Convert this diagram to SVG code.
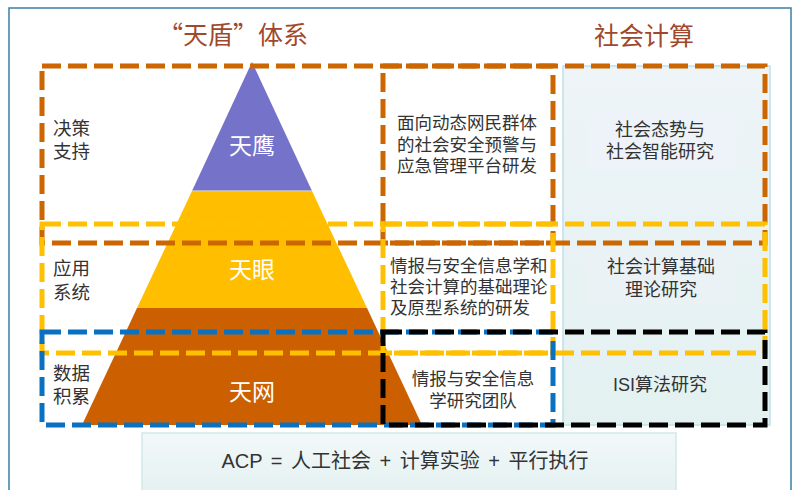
<svg xmlns="http://www.w3.org/2000/svg" width="798" height="490" viewBox="0 0 798 490">
<defs>
<linearGradient id="rightBg" x1="0" y1="0" x2="0" y2="1">
<stop offset="0" stop-color="#eef4f8"/>
<stop offset="1" stop-color="#e3f1f1"/>
</linearGradient>
<linearGradient id="acpBg" x1="0" y1="0" x2="0" y2="1">
<stop offset="0" stop-color="#f2f8f9"/>
<stop offset="1" stop-color="#e2f0f0"/>
</linearGradient>
</defs>
<style>
text{font-family:"Liberation Sans","Noto Sans CJK SC",sans-serif;}
.t{fill:#333;font-size:17.5px;}
.r{fill:#333;font-size:18px;text-anchor:middle;}
.lbl{fill:#333;font-size:18.5px;}
.py{fill:#fff;font-size:23px;text-anchor:middle;}
.title{fill:#a0482c;font-size:25px;text-anchor:middle;font-family:"Noto Sans CJK SC",sans-serif;}
.d{fill:none;stroke-width:5;stroke-dasharray:19 7;}
.or{stroke:#cc6600;}
.ye{stroke:#ffc000;}
.bl{stroke:#0a70c0;}
.bk{stroke:#000;}
</style>
<rect x="0" y="0" width="798" height="490" fill="#fff"/>
<rect x="9" y="8" width="782" height="500" fill="#fff" stroke="#3b7fa8" stroke-width="1.5"/>
<g id="titles">
<text class="title" x="233" y="44">“天盾”体系</text>
<text class="title" x="644" y="45">社会计算</text>
</g>
<g id="right-column">
<rect x="563" y="66" width="207" height="359" fill="url(#rightBg)" stroke="#bfe0e6" stroke-width="1.5"/>
<rect x="588" y="112" width="150" height="58" fill="#edf3f8"/>
<rect x="586" y="254" width="150" height="50" fill="#eaf2f6"/>
</g>
<g id="middle-column">
<rect x="383" y="66" width="170" height="359" fill="#fff"/>
</g>
<g id="pyramid">
<polygon id="tianying" points="252,62 312,191 192,191" fill="#7573c9"/>
<polygon id="tianyan" points="192,191 312,191 367,308 137,308" fill="#ffbf00"/>
<polygon id="tianwang" points="137,308 367,308 422,425 82,425" fill="#cc6000"/>
<line x1="192" y1="191" x2="312" y2="191" stroke="#c8c8c8" stroke-width="1.5"/>
<text class="py" x="252" y="154">天鹰</text>
<text class="py" x="252" y="278">天眼</text>
<text class="py" x="252" y="400">天网</text>
</g>
<g id="connectors">
<rect class="d or" x="42" y="66" width="511" height="177"/>
<rect class="d or" x="383" y="66" width="382" height="177"/>
<rect class="d ye" x="42" y="224" width="511" height="129"/>
<rect class="d ye" x="383" y="224" width="382" height="129"/>
<rect class="d bl" x="42" y="332" width="511" height="93"/>
<rect class="d bk" x="383" y="332" width="382" height="93"/>
</g>
<g id="left-labels">
<text class="lbl" x="53" y="135">决策</text>
<text class="lbl" x="53" y="158">支持</text>
<text class="lbl" x="53" y="275">应用</text>
<text class="lbl" x="53" y="299">系统</text>
<text class="lbl" x="53" y="380">数据</text>
<text class="lbl" x="53" y="403">积累</text>
</g>
<g id="middle-texts">
<text class="t" x="467" y="129" text-anchor="middle">面向动态网民群体</text>
<text class="t" x="467" y="151" text-anchor="middle">的社会安全预警与</text>
<text class="t" x="467" y="172" text-anchor="middle">应急管理平台研发</text>
<text class="t" x="390" y="272">情报与安全信息学和</text>
<text class="t" x="390" y="293">社会计算的基础理论</text>
<text class="t" x="390" y="314">及原型系统的研发</text>
<text class="t" x="473" y="385" text-anchor="middle">情报与安全信息</text>
<text class="t" x="473" y="407" text-anchor="middle">学研究团队</text>
</g>
<g id="right-texts">
<text class="r" x="660" y="136">社会态势与</text>
<text class="r" x="660" y="158">社会智能研究</text>
<text class="r" x="661" y="273">社会计算基础</text>
<text class="r" x="661" y="296">理论研究</text>
<text class="r" x="660" y="391">ISI算法研究</text>
</g>
<g id="acp">
<rect x="142" y="433" width="534" height="70" fill="url(#acpBg)" stroke="#d2e8ea" stroke-width="1.5"/>
<text x="405" y="468" fill="#333" font-size="20" word-spacing="3" text-anchor="middle">ACP = 人工社会 + 计算实验 + 平行执行</text>
</g>
</svg>
